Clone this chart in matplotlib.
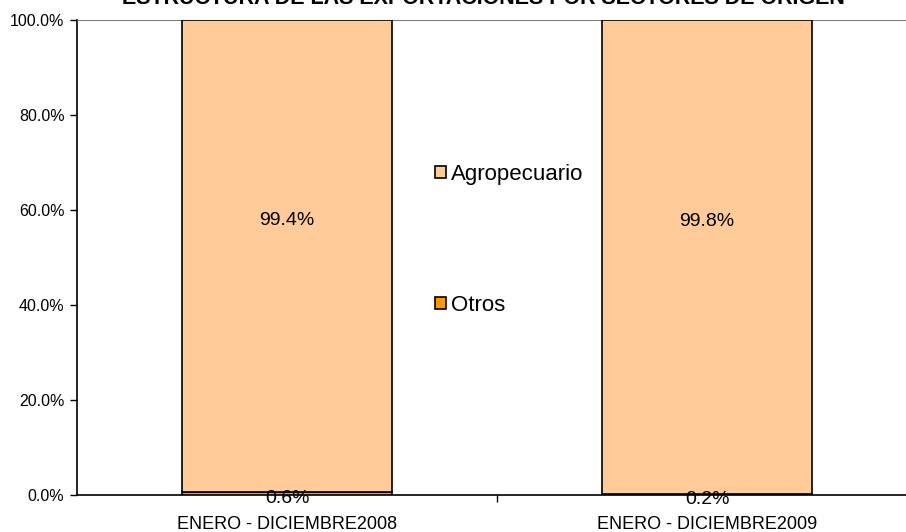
import matplotlib
matplotlib.use("Agg")
import matplotlib.pyplot as plt
from matplotlib.patches import Patch
from matplotlib.ticker import FuncFormatter, FixedLocator

categories = ["ENERO - DICIEMBRE2008", "ENERO - DICIEMBRE2009"]
otros = [0.6, 0.2]
agro = [99.4, 99.8]
title = "ESTRUCTURA DE LAS EXPORTACIONES POR SECTORES DE ORIGEN"

plt.rcParams['font.family'] = ['Liberation Sans', 'DejaVu Sans']
fig = plt.figure(figsize=(9.06, 5.32), dpi=100)
ax = fig.add_axes([77/906, (532-495)/532, 840/906, 475/532])

x = [0, 1]
c_otros = "#FF9900"
c_agro = "#FFCC99"
ax.bar(x, otros, width=0.5, color=c_otros, edgecolor="black", linewidth=1.2, zorder=3)
ax.bar(x, agro, width=0.5, bottom=otros, color=c_agro, edgecolor="black", linewidth=1.2, zorder=3)

for xi, o, a in zip(x, otros, agro):
    ax.text(xi, o + a * 0.575, f"{a:.1f}%", ha="center", va="center", fontsize=14, zorder=5)
    ax.text(xi, o / 2 - 1.0, f"{o:.1f}%", ha="center", va="center", fontsize=14, zorder=5)

ax.set_xlim(-0.5, 1.5)
ax.set_ylim(0, 100)
ax.yaxis.set_major_locator(FixedLocator([0, 20, 40, 60, 80, 100]))
ax.yaxis.set_major_formatter(FuncFormatter(lambda v, p: f"{v:.1f}%"))
ax.tick_params(axis="y", labelsize=11.5, length=5, width=1, direction="out", pad=4)
ax.set_xticks(x)
ax.set_xticklabels(categories)
ax.tick_params(axis="x", labelsize=13, length=0, pad=15)
ax.set_xticks([0.5], minor=True)
ax.tick_params(axis="x", which="minor", length=5, width=1, direction="out")

ax.spines["right"].set_visible(False)
ax.spines["top"].set_color("#808080")
ax.spines["left"].set_linewidth(1.2)
ax.spines["bottom"].set_linewidth(1.2)

handles = [Patch(facecolor=c_agro, edgecolor="black", linewidth=1.2),
           Patch(facecolor=c_otros, edgecolor="black", linewidth=1.2)]
ax.legend(handles, ["Agropecuario", "Otros"], loc="center left",
          bbox_to_anchor=(424/906 * 906/840 - 77/840, (532-240)/532 * 532/475 - 37/475),
          frameon=False, fontsize=16, handlelength=0.5, handleheight=0.45,
          handletextpad=0.2, labelspacing=4.95, borderpad=0)

fig.text(483/906, 1 - 4/532, title, ha="center", va="baseline", fontsize=15.5, fontweight="bold")

fig.savefig("out.png", dpi=100)
